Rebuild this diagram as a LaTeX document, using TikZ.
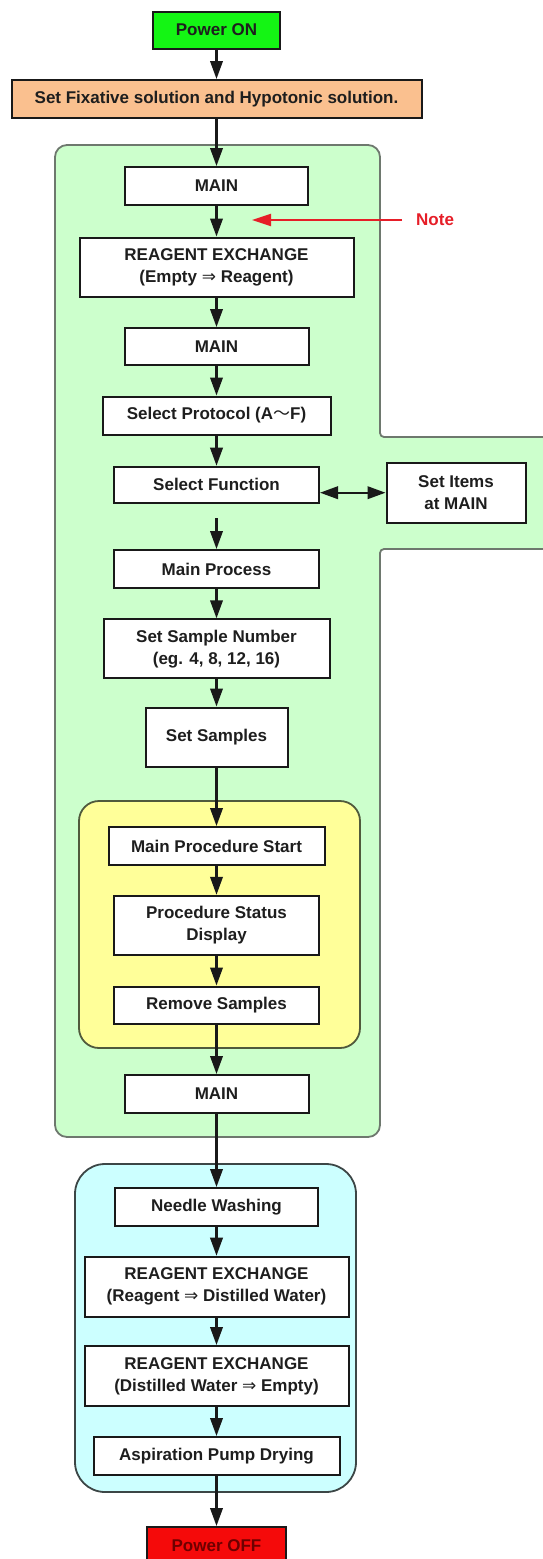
\documentclass[tikz,border=0pt]{standalone}
\usepackage{fontspec}
\setmainfont{Liberation Sans}
\newfontfamily\dvsym{DejaVu Sans}
\newfontfamily\cjkjp{Noto Sans CJK JP}
\usetikzlibrary{arrows.meta}
\definecolor{greenfill}{RGB}{204,255,204}
\definecolor{greenline}{RGB}{110,120,110}
\definecolor{yellowfill}{RGB}{255,255,153}
\definecolor{yellowline}{RGB}{80,90,60}
\definecolor{bluefill}{RGB}{204,255,255}
\definecolor{blueline}{RGB}{60,70,70}
\definecolor{ongreen}{RGB}{20,245,20}
\definecolor{peach}{RGB}{250,192,143}
\definecolor{offred}{RGB}{245,10,10}
\definecolor{offtext}{RGB}{110,0,0}
\definecolor{boxline}{RGB}{25,25,25}
\definecolor{txt}{RGB}{30,30,30}
\definecolor{notered}{RGB}{230,30,40}
\newcommand{\dra}{{\dvsym\mdseries ⇒}}
\begin{document}
\begin{tikzpicture}[x=1pt,y=-1pt,
  font=\fontsize{17}{22}\selectfont\bfseries,
  stepbox/.style 2 args={draw=boxline, line width=2pt, fill=white, inner sep=0pt,
    align=center, text=txt, minimum width=#1, minimum height=#2},
  arr/.style={line width=2.2pt, draw=boxline, -{Triangle[length=18pt,width=12.5pt]}},
  dblarr/.style={line width=2.2pt, draw=boxline, {Triangle[length=18pt,width=12.5pt]}-{Triangle[length=18pt,width=12.5pt]}},
  notearr/.style={line width=2pt, draw=notered, -{Triangle[length=19pt,width=12pt]}},
  region/.style={line width=1.8pt}]
\useasboundingbox (0,0) rectangle (542,1559);

% green region
\path[region, draw=greenline, fill=greenfill]
  (200,145) [rounded corners=12] -- (380,145) [rounded corners=4] -- (380,437) -- (560,437)
  -- (560,549) -- (380,549) [rounded corners=12] -- (380,1137) -- (55,1137) -- (55,145) -- cycle;
% yellow region
\path[region, draw=yellowline, fill=yellowfill, rounded corners=20]
  (79,801) rectangle (360,1048);
% blue region
\path[region, draw=blueline, fill=bluefill, rounded corners=30]
  (75,1164) rectangle (356,1492);

\def\cx{216.5}
\node[stepbox={127pt}{37pt}, fill=ongreen] (pon) at (\cx,30) {Power ON};
\node[stepbox={410pt}{38pt}, fill=peach] (fix) at (\cx,99) {Set Fixative solution and Hypotonic solution.};
\node[stepbox={183pt}{38pt}] (main1) at (\cx,186) {MAIN};
\node[stepbox={274pt}{59pt}] (reag1) at (\cx,267) {REAGENT EXCHANGE\\(Empty \dra{} Reagent)};
\node[stepbox={184pt}{37pt}] (main2) at (\cx,346.5) {MAIN};
\node[stepbox={228pt}{38pt}] (proto) at (\cx,415.5) {Select Protocol (A{\cjkjp\mdseries ～}F)};
\node[stepbox={205pt}{36pt}] (func) at (\cx,484.7) {Select Function};
\node[stepbox={139pt}{60pt}] (items) at (456,492.7) {Set Items\\at MAIN};
\node[stepbox={205pt}{38pt}] (mproc) at (\cx,569) {Main Process};
\node[stepbox={226pt}{59pt}] (ssn) at (\cx,648.8) {Set Sample Number\\(eg. 4, 8, 12, 16)};
\node[stepbox={142pt}{59pt}] (ss) at (\cx,737) {Set Samples};
\node[stepbox={216pt}{38pt}] (mps) at (\cx,846) {Main Procedure Start};
\node[stepbox={205pt}{59pt}] (psd) at (\cx,925.3) {Procedure Status\\Display};
\node[stepbox={205pt}{37pt}] (rs) at (\cx,1005) {Remove Samples};
\node[stepbox={184pt}{38pt}] (main3) at (\cx,1094) {MAIN};
\node[stepbox={203pt}{38pt}] (nw) at (\cx,1207) {Needle Washing};
\node[stepbox={264pt}{60pt}] (reag2) at (\cx,1286.7) {REAGENT EXCHANGE\\(Reagent \dra{} Distilled Water)};
\node[stepbox={264pt}{60pt}] (reag3) at (\cx,1376) {REAGENT EXCHANGE\\(Distilled Water \dra{} Empty)};
\node[stepbox={246pt}{38pt}] (apd) at (\cx,1456) {Aspiration Pump Drying};
\node[stepbox={139pt}{37pt}, fill=offred, text=offtext] (poff) at (\cx,1545.5) {Power OFF};

\node[anchor=west, inner sep=0pt, text=notered] (note) at (416,220) {Note};
\coordinate (nt) at (252,220);
\coordinate (fs) at (\cx,518);

\draw[arr] (pon) -- (fix);
\draw[arr] (fix) -- (main1);
\draw[arr] (main1) -- (reag1);
\draw[arr] (reag1) -- (main2);
\draw[arr] (main2) -- (proto);
\draw[arr] (proto) -- (func);
\draw[dblarr] (func.east |- items.west) -- (items.west);
\draw[arr] (fs) -- (mproc);
\draw[arr] (mproc) -- (ssn);
\draw[arr] (ssn) -- (ss);
\draw[arr] (ss) -- (mps);
\draw[arr] (mps) -- (psd);
\draw[arr] (psd) -- (rs);
\draw[arr] (rs) -- (main3);
\draw[arr] (main3) -- (nw);
\draw[arr] (nw) -- (reag2);
\draw[arr] (reag2) -- (reag3);
\draw[arr] (reag3) -- (apd);
\draw[arr] (apd) -- (poff);
\draw[notearr] ([xshift=-14pt]note.west) -- (nt);
\end{tikzpicture}
\end{document}
